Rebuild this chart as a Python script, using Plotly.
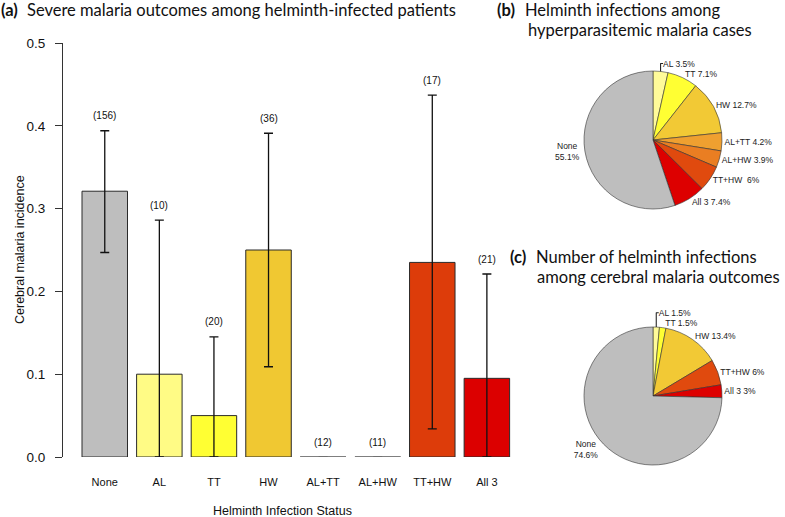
import plotly.graph_objects as go

W, H = 785, 517

# ---------------- data ----------------
categories = ["None", "AL", "TT", "HW", "AL+TT", "AL+HW", "TT+HW", "All 3"]
incidence = [0.321, 0.100, 0.050, 0.250, 0.0, 0.0, 0.235, 0.095]
ci_upper = [0.394, 0.286, 0.145, 0.391, 0.0, 0.0, 0.437, 0.221]
ci_lower = [0.247, 0.0, 0.0, 0.109, 0.0, 0.0, 0.034, 0.0]
n_patients = [156, 10, 20, 36, 12, 11, 17, 21]
bar_colors = ["#BEBEBE", "#FFFB85", "#FFFF33", "#F0C832", "#EFA030", "#EA7E22", "#DD3C0A", "#DC0000"]

pie_b_labels = ["AL", "TT", "HW", "AL+TT", "AL+HW", "TT+HW", "All 3", "None"]
pie_b_values = [3.5, 7.1, 12.7, 4.2, 3.9, 6.0, 7.4, 55.1]
pie_b_text = ["AL 3.5%", "TT 7.1%", "HW 12.7%", "AL+TT 4.2%", "AL+HW 3.9%",
              "TT+HW\u00a0\u00a06%", "All 3 7.4%", "None<br>55.1%"]
pie_b_colors = ["#FFFB99", "#FFFF33", "#F2C935", "#EFA030", "#EA7E22", "#E04A0E", "#DD0000", "#BEBEBE"]

pie_c_labels = ["AL", "TT", "HW", "TT+HW", "All 3", "None"]
pie_c_values = [1.5, 1.5, 13.4, 6.0, 3.0, 74.6]
pie_c_text = ["AL 1.5%", "TT 1.5%", "HW 13.4%", "TT+HW 6%", "All 3 3%", "None<br>74.6%"]
pie_c_colors = ["#FFFB99", "#FFFF33", "#F2C935", "#E04A0E", "#DD0000", "#BEBEBE"]

y_ticks = [0.0, 0.1, 0.2, 0.3, 0.4, 0.5]

# ---------------- helpers ----------------
def px(x):
    return x / W

def py(y):
    return 1 - y / H

AX_FONT = "Liberation Sans, Arial, sans-serif"
TITLE_FONT = "Lato, Open Sans, sans-serif"
BAR_W = 1 / 1.2

xs = list(range(len(categories)))
err_plus = [u - v for u, v in zip(ci_upper, incidence)]
err_minus = [v - l for v, l in zip(incidence, ci_lower)]

fig = go.Figure()

fig.add_trace(go.Bar(
    x=xs, y=incidence, width=BAR_W,
    marker=dict(color=bar_colors, line=dict(color="#2a2a2a", width=1)),
    error_y=dict(type="data", array=err_plus, arrayminus=err_minus,
                 color="#111111", thickness=1.3, width=4.5, visible=True),
    xaxis="x", yaxis="y", showlegend=False, hoverinfo="skip",
))

# zero-height bars drawn as their outline only
for i, v in enumerate(incidence):
    if v == 0:
        fig.add_trace(go.Scatter(
            x=[i - BAR_W / 2, i + BAR_W / 2], y=[v, v], mode="lines",
            line=dict(color="#8a8a8a", width=1.3), showlegend=False,
            hoverinfo="skip", xaxis="x", yaxis="y", cliponaxis=False,
        ))

for i, (u, n) in enumerate(zip(ci_upper, n_patients)):
    fig.add_annotation(x=i, y=u, xref="x", yref="y", text=f"({n})",
                       showarrow=False, yshift=15,
                       font=dict(family=AX_FONT, size=10, color="#111"))

fig.add_trace(go.Pie(
    labels=pie_b_labels, values=pie_b_values, text=pie_b_text,
    textinfo="text", textposition="outside", sort=False, direction="clockwise",
    rotation=0, marker=dict(colors=pie_b_colors, line=dict(color="#333", width=0.6)),
    outsidetextfont=dict(family=AX_FONT, size=8.5, color="#222"),
    domain=dict(x=[px(584), px(722)], y=[py(209), py(71)]),
    showlegend=False, hoverinfo="skip",
))

fig.add_trace(go.Pie(
    labels=pie_c_labels, values=pie_c_values, text=pie_c_text,
    textinfo="text", textposition="outside", sort=False, direction="clockwise",
    rotation=0, marker=dict(colors=pie_c_colors, line=dict(color="#333", width=0.6)),
    outsidetextfont=dict(family=AX_FONT, size=8.5, color="#222"),
    domain=dict(x=[px(584), px(722)], y=[py(465), py(327)]),
    showlegend=False, hoverinfo="skip",
))

# titles
def add_text(x, y, text, size=16.5, bold=False, family=TITLE_FONT):
    fig.add_annotation(x=px(x), y=py(y), xref="paper", yref="paper",
                       text=f"<b>{text}</b>" if bold else text,
                       showarrow=False, xanchor="left", yanchor="middle",
                       font=dict(family=family, size=size, color="#111"))

add_text(-1, 10, "(a)", bold=True)
add_text(25, 10, "Severe malaria outcomes among helminth-infected patients")
add_text(495, 10, "(b)", bold=True)
add_text(523, 10, "Helminth infections among")
add_text(526, 29.5, "hyperparasitemic malaria cases")
add_text(508, 257, "(c)", bold=True)
add_text(534, 257, "Number of helminth infections")
add_text(535, 277, "among cerebral malaria outcomes")

# axis titles
fig.add_annotation(x=px(282), y=py(511), xref="paper", yref="paper",
                   xanchor="center", yanchor="middle",
                   text="Helminth Infection Status", showarrow=False,
                   font=dict(family=AX_FONT, size=12.5, color="#111"))
fig.add_annotation(x=px(20), y=py(250), xref="paper", yref="paper",
                   xanchor="center", yanchor="middle",
                   text="Cerebral malaria incidence", showarrow=False, textangle=-90,
                   font=dict(family=AX_FONT, size=12.5, color="#111"))

fig.update_layout(
    width=W, height=H, margin=dict(l=0, r=0, t=0, b=0, pad=0, autoexpand=False),
    paper_bgcolor="white", plot_bgcolor="white",
    xaxis=dict(domain=[px(63), px(527)], range=[-0.765, 7.735], automargin=False,
               tickmode="array", tickvals=xs, ticktext=categories,
               showline=False, showgrid=False, zeroline=False, ticks="",
               ticklabelstandoff=17,
               tickfont=dict(family=AX_FONT, size=11, color="#111")),
    yaxis=dict(domain=[py(457), py(43)], range=[0, 0.5], automargin=False,
               tickmode="array", tickvals=y_ticks, tickformat=".1f",
               showline=True, linecolor="#333", linewidth=1,
               ticks="outside", ticklen=7, tickcolor="#333",
               showgrid=False, zeroline=False, ticklabelstandoff=7,
               tickfont=dict(family=AX_FONT, size=13.5, color="#111")),
)

fig.write_html(
    "out.html",
    config={"displayModeBar": False},
    post_script="document.body.style.margin='0';document.body.style.overflow='hidden';",
)
